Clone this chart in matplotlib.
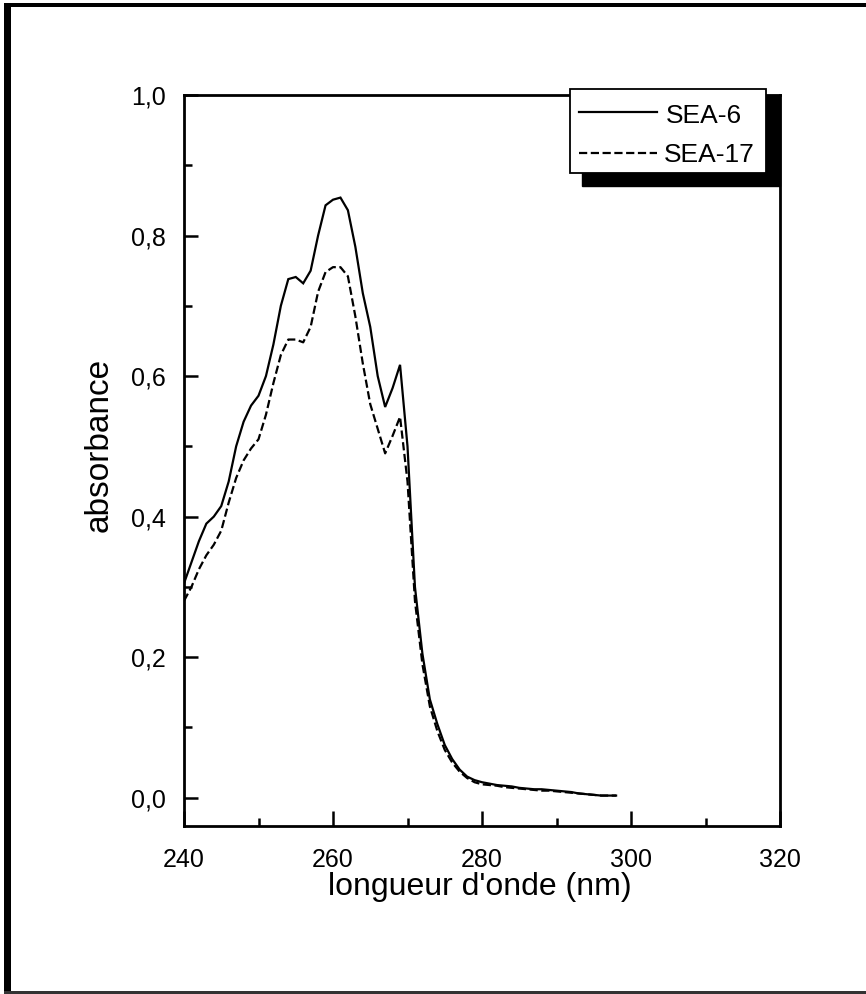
import matplotlib
matplotlib.use("Agg")
import matplotlib.pyplot as plt
from matplotlib.patches import Rectangle
from matplotlib.lines import Line2D
from matplotlib.ticker import MultipleLocator, FuncFormatter

plt.rcParams['font.family'] = ['Liberation Sans', 'DejaVu Sans']

wavelength = list(range(240, 299))
sea6 = [0.305, 0.335, 0.365, 0.390, 0.400, 0.415, 0.450, 0.500, 0.535, 0.558,
        0.572, 0.600, 0.645, 0.700, 0.738, 0.741, 0.732, 0.750, 0.800, 0.843,
        0.851, 0.854, 0.836, 0.784, 0.718, 0.670, 0.600, 0.556, 0.583, 0.616,
        0.500, 0.300, 0.205, 0.140, 0.105, 0.075, 0.055, 0.040, 0.030, 0.025,
        0.022, 0.020, 0.018, 0.017, 0.016, 0.014, 0.013, 0.012, 0.012, 0.011,
        0.010, 0.009, 0.008, 0.006, 0.005, 0.004, 0.003, 0.003, 0.003]
sea17 = [0.280, 0.300, 0.325, 0.345, 0.360, 0.380, 0.420, 0.455, 0.480, 0.497,
         0.510, 0.545, 0.590, 0.630, 0.652, 0.652, 0.648, 0.670, 0.720, 0.748,
         0.755, 0.755, 0.742, 0.685, 0.618, 0.560, 0.525, 0.490, 0.515, 0.542,
         0.450, 0.280, 0.190, 0.130, 0.095, 0.068, 0.050, 0.037, 0.028, 0.022,
         0.019, 0.018, 0.017, 0.015, 0.014, 0.013, 0.012, 0.011, 0.010, 0.010,
         0.009, 0.008, 0.007, 0.006, 0.005, 0.004, 0.003, 0.003, 0.003]
labels = ["SEA-6", "SEA-17"]
xticks = [240, 260, 280, 300, 320]
yticks = [0.0, 0.2, 0.4, 0.6, 0.8, 1.0]

W, H = 866, 994
fig = plt.figure(figsize=(W / 100, H / 100), dpi=100)

def fx(px):
    return px / W

def fy(py):
    return 1 - py / H

ax = fig.add_axes([fx(184), fy(826), fx(780) - fx(184), fy(95) - fy(826)])
lw = 1.6
dash = (0, (3.7, 1.6))
ax.plot(wavelength, sea6, color='black', lw=lw, solid_joinstyle='miter')
ax.plot(wavelength, sea17, color='black', lw=lw, linestyle=dash)

ax.set_xlim(240, 320)
ax.set_ylim(-0.0403, 1.0)
ax.set_xticks(xticks)
ax.set_yticks(yticks)
ax.xaxis.set_minor_locator(MultipleLocator(10))
ax.yaxis.set_minor_locator(MultipleLocator(0.1))
ax.yaxis.set_major_formatter(FuncFormatter(lambda v, p: f"{v:.1f}".replace('.', ',')))
ax.tick_params(which='both', direction='in', top=False, right=False, width=1.8)
ax.tick_params(which='major', length=11, labelsize=18)
ax.tick_params(which='minor', length=5.5)
ax.tick_params(axis='y', which='major', pad=13, length=10)
ax.tick_params(axis='x', which='major', pad=16)
for s in ax.spines.values():
    s.set_linewidth(2.0)

ax.set_xlabel("longueur d'onde (nm)", fontsize=23)
ax.set_ylabel("absorbance", fontsize=24)
ax.xaxis.set_label_coords(0.497, -0.063)
ax.yaxis.set_label_coords(-0.116, 0.521)

# legend with black shadow
fig.add_artist(Rectangle((fx(582), fy(186)), fx(780) - fx(582), fy(95) - fy(186),
                         transform=fig.transFigure, facecolor='black', edgecolor='black', zorder=10))
fig.add_artist(Rectangle((fx(570), fy(173)), fx(766) - fx(570), fy(89) - fy(173),
                         transform=fig.transFigure, facecolor='white', edgecolor='black',
                         linewidth=1.3, zorder=11))
fig.add_artist(Line2D([fx(579), fx(657)], [fy(111.5), fy(111.5)], transform=fig.transFigure,
                      color='black', lw=lw, zorder=12))
fig.add_artist(Line2D([fx(579), fx(657)], [fy(152.5), fy(152.5)], transform=fig.transFigure,
                      color='black', lw=lw, linestyle=dash, zorder=12))
fig.text(fx(666), fy(116), labels[0], fontsize=19, va='center', ha='left', zorder=13)
fig.text(fx(664), fy(155), labels[1], fontsize=19, va='center', ha='left', zorder=13)

# figure frame
fig.add_artist(Rectangle((fx(4), fy(991)), fx(11) - fx(4), fy(3) - fy(991),
                         transform=fig.transFigure, facecolor='black', edgecolor='none'))
fig.add_artist(Rectangle((fx(4), fy(7)), 1 - fx(4), fy(3) - fy(7),
                         transform=fig.transFigure, facecolor='black', edgecolor='none'))
fig.add_artist(Rectangle((fx(4), 0), 1 - fx(4), fy(991),
                         transform=fig.transFigure, facecolor='#333333', edgecolor='none'))

fig.savefig("out.png", dpi=100)
